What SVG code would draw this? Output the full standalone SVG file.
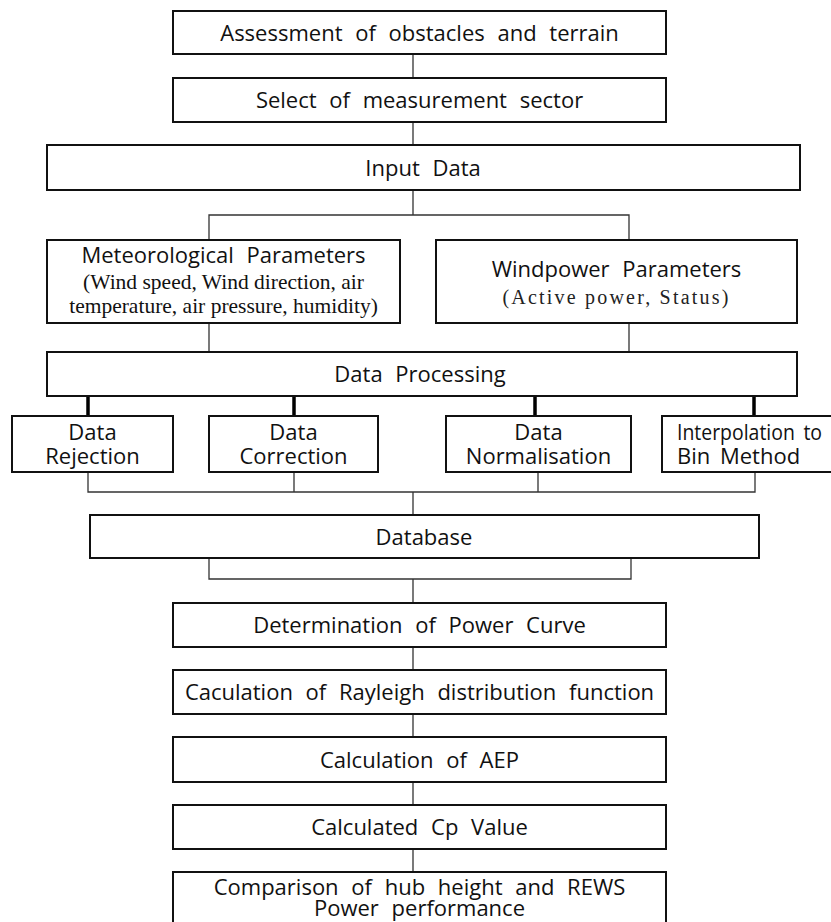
<svg xmlns="http://www.w3.org/2000/svg" width="831" height="922" viewBox="0 0 831 922">
  <style>
    .box { fill: #ffffff; stroke: #111111; stroke-width: 2; }
    .t { font-family: "Open Sans", "Noto Sans", "Liberation Sans", sans-serif; font-size: 22px; fill: #111111; text-anchor: middle; word-spacing: 7px; }
    .s { font-family: "Liberation Serif", "DejaVu Serif", serif; font-size: 21.5px; fill: #111111; text-anchor: middle; }
    .sw { font-family: "Liberation Serif", "DejaVu Serif", serif; font-size: 20px; fill: #222222; text-anchor: middle; letter-spacing: 2.2px; }
    .c { fill: none; stroke: #333333; stroke-width: 1.3; }
    .ck { fill: none; stroke: #000000; stroke-width: 3.5; }
  </style>
  <rect width="831" height="922" fill="#ffffff"/>

  <!-- connectors -->
  <g id="connectors">
    <path class="c" d="M413 54 V78 M413 122 V145"/>
    <path class="c" d="M413 190 V215 M209 240 V215 H629 V240"/>
    <path class="c" d="M209 323 V352 M629 323 V352"/>
    <path class="ck" d="M88 396 V416 M294 396 V416 M535 396 V416 M754 396 V416"/>
    <path class="c" d="M88 472 V492 H755 V472 M294 472 V492 M538 472 V492 M413 492 V515"/>
    <path class="c" d="M209 558 V579 H631 V558 M413 579 V603"/>
    <path class="c" d="M413 647 V670 M413 714 V737 M413 782 V805 M413 849 V872"/>
  </g>

  <g id="assessment">
    <rect class="box" x="173" y="11" width="493" height="43"/>
    <text class="t" x="419.5" y="40.5">Assessment of obstacles and terrain</text>
  </g>
  <g id="sector">
    <rect class="box" x="173" y="78" width="493" height="44"/>
    <text class="t" x="419.5" y="108">Select of measurement sector</text>
  </g>
  <g id="input-data">
    <rect class="box" x="47" y="145" width="753" height="45"/>
    <text class="t" x="423" y="175.5">Input Data</text>
  </g>
  <g id="meteorological">
    <rect class="box" x="47" y="240" width="353" height="83"/>
    <text class="t" x="223.5" y="263">Meteorological Parameters</text>
    <text class="s" x="223.5" y="289">(Wind speed, Wind direction, air</text>
    <text class="s" x="223.5" y="313">temperature, air pressure, humidity)</text>
  </g>
  <g id="windpower">
    <rect class="box" x="436" y="240" width="361" height="83"/>
    <text class="t" x="616.5" y="277">Windpower Parameters</text>
    <text class="sw" x="616.5" y="304">(Active power, Status)</text>
  </g>
  <g id="processing">
    <rect class="box" x="47" y="352" width="750" height="44"/>
    <text class="t" x="420" y="382">Data Processing</text>
  </g>
  <g id="rejection">
    <rect class="box" x="12" y="416" width="161" height="56"/>
    <text class="t" x="92.5" y="440">Data</text>
    <text class="t" x="92.5" y="464">Rejection</text>
  </g>
  <g id="correction">
    <rect class="box" x="209" y="416" width="169" height="56"/>
    <text class="t" x="293.5" y="440">Data</text>
    <text class="t" x="293.5" y="464">Correction</text>
  </g>
  <g id="normalisation">
    <rect class="box" x="446" y="416" width="185" height="56"/>
    <text class="t" x="538.5" y="440">Data</text>
    <text class="t" x="538.5" y="464">Normalisation</text>
  </g>
  <g id="interpolation">
    <rect class="box" x="662" y="416" width="180" height="56"/>
    <text class="t" x="677" y="440" style="text-anchor:start;word-spacing:4px" textLength="145" lengthAdjust="spacingAndGlyphs">Interpolation to</text>
    <text class="t" x="677" y="464" style="text-anchor:start;word-spacing:4px">Bin Method</text>
  </g>
  <g id="database">
    <rect class="box" x="90" y="515" width="669" height="43"/>
    <text class="t" x="424" y="544.5">Database</text>
  </g>
  <g id="power-curve">
    <rect class="box" x="173" y="603" width="493" height="44"/>
    <text class="t" x="419.5" y="633">Determination of Power Curve</text>
  </g>
  <g id="rayleigh">
    <rect class="box" x="173" y="670" width="493" height="44"/>
    <text class="t" x="419.5" y="700">Caculation of Rayleigh distribution function</text>
  </g>
  <g id="aep">
    <rect class="box" x="173" y="737" width="493" height="45"/>
    <text class="t" x="419.5" y="767.5">Calculation of AEP</text>
  </g>
  <g id="cp-value">
    <rect class="box" x="173" y="805" width="493" height="44"/>
    <text class="t" x="419.5" y="835">Calculated Cp Value</text>
  </g>
  <g id="comparison">
    <rect class="box" x="173" y="872" width="493" height="60"/>
    <text class="t" x="419.5" y="895">Comparison of hub height and REWS</text>
    <text class="t" x="419.5" y="916">Power performance</text>
  </g>
</svg>
